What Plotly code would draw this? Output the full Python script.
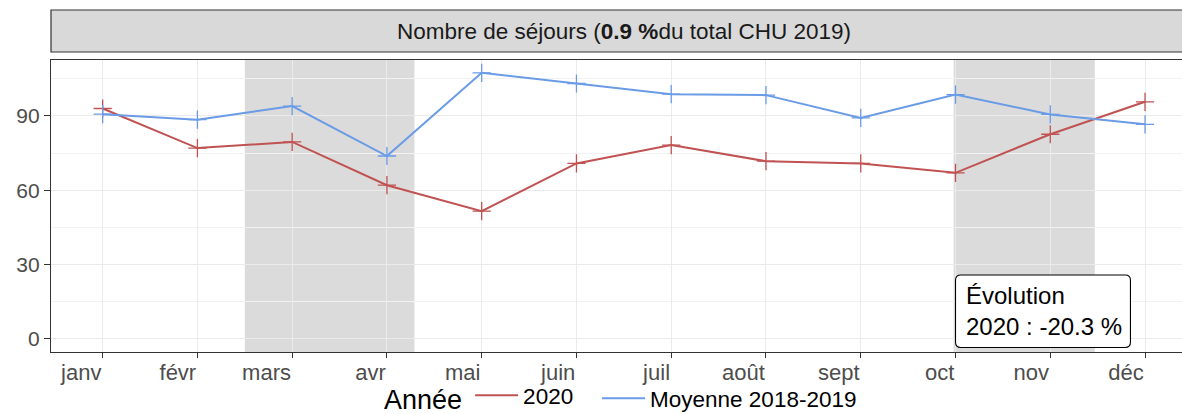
import plotly.graph_objects as go

months = ["janv", "févr", "mars", "avr", "mai", "juin", "juil", "août", "sept", "oct", "nov", "déc"]
y2020 = [93, 77, 79.5, 62, 51.5, 70.8, 78.2, 71.7, 70.8, 67, 82.6, 95.7]
ymoy = [90.7, 88.5, 94, 73.8, 107.4, 103.1, 98.8, 98.4, 89.2, 98.6, 90.6, 86.6]
series_names = ["2020", "Moyenne 2018-2019"]
colors = ["#C05252", "#6A9BE6"]
shade_periods = [(1.5, 3.29), (8.98, 10.47)]
yticks = [0, 30, 60, 90]

x = list(range(len(months)))
FONT = "Liberation Sans, Arial, sans-serif"

fig = go.Figure()
for name, vals, col in zip(series_names, [y2020, ymoy], colors):
    fig.add_trace(go.Scatter(
        x=x, y=vals, mode="lines+markers", name=name, showlegend=False,
        line=dict(color=col, width=2),
        marker=dict(symbol="cross-thin", size=13, color=col, line=dict(color=col, width=1.3)),
        hoverinfo="skip"))
for name, col, lg in zip(series_names, colors, ["legend", "legend2"]):
    fig.add_trace(go.Scatter(x=[None], y=[None], mode="lines", name=name, legend=lg,
                             line=dict(color=col, width=2)))

for x0, x1 in shade_periods:
    fig.add_shape(type="rect", xref="x", yref="paper", x0=x0, x1=x1, y0=0, y1=1,
                  fillcolor="rgba(0,0,0,0.14)", line=dict(width=0), layer="between")

# strip (facet header)
fig.add_shape(type="rect", xref="paper", yref="paper", x0=0, x1=1.03, y0=1.0274, y1=1.1712,
              fillcolor="#D9D9D9", line=dict(color="#333333", width=1.2))
fig.add_annotation(xref="x", yref="paper", x=5.5, y=1.0993, yanchor="middle",
                   text="Nombre de séjours (<b>0.9 %</b>du total CHU 2019)",
                   showarrow=False, font=dict(family=FONT, size=22.5, color="#1A1A1A"))

# rounded label box for the evolution text
bx0, bx1, by0, by1 = 9.0, 10.846, -3.6, 25.7
rx, ry = 0.055, 2.1
path = (f"M {bx0+rx},{by0} L {bx1-rx},{by0} Q {bx1},{by0} {bx1},{by0+ry} "
        f"L {bx1},{by1-ry} Q {bx1},{by1} {bx1-rx},{by1} L {bx0+rx},{by1} "
        f"Q {bx0},{by1} {bx0},{by1-ry} L {bx0},{by0+ry} Q {bx0},{by0} {bx0+rx},{by0} Z")
fig.add_shape(type="path", xref="x", yref="y", path=path, fillcolor="white",
              line=dict(color="black", width=1.1), layer="above")
fig.add_annotation(xref="x", yref="y", x=9.085, y=(by0 + by1) / 2, xanchor="left", yanchor="middle",
                   text="Évolution<br>2020 : -20.3 %", align="left", showarrow=False,
                   font=dict(family=FONT, size=24, color="black"))

legend_common = dict(orientation="h", xanchor="left", y=-0.233, yanchor="bottom",
                     font=dict(size=22.5, color="black"), itemwidth=43,
                     bgcolor="rgba(0,0,0,0)")
fig.update_layout(
    width=1182, height=414,
    margin=dict(l=51, r=0, t=60, b=62, autoexpand=False),
    paper_bgcolor="white", plot_bgcolor="white",
    font=dict(family=FONT, color="#4D4D4D"),
    legend=dict(x=0.2927, title=dict(text="Année", font=dict(size=27, color="black"), side="left"),
                **legend_common),
    legend2=dict(x=0.4828, **legend_common),
    xaxis=dict(range=[-0.545, 11.39], tickvals=x, ticktext=months,
               ticklabelposition="outside left", automargin=False,
               tickfont=dict(size=22, color="#4D4D4D"),
               ticks="outside", ticklen=5, tickcolor="#333333", tickwidth=1.2,
               showgrid=True, gridcolor="#EBEBEB", gridwidth=1.2,
               showline=True, linecolor="#333333", linewidth=1.2, mirror=True,
               zeroline=False),
    yaxis=dict(range=[-5.4, 112.6], tickvals=yticks, automargin=False,
               tickfont=dict(size=21, color="#4D4D4D"),
               ticks="outside", ticklen=6, tickcolor="#333333", tickwidth=1.2,
               showgrid=True, gridcolor="#EBEBEB", gridwidth=1.2,
               minor=dict(dtick=15, tick0=15, showgrid=True, gridcolor="#F2F2F2", gridwidth=1),
               showline=True, linecolor="#333333", linewidth=1.2, mirror=True,
               zeroline=False),
)

fig.write_html("out.html", config={"displayModeBar": False},
               post_script="document.body.style.margin='0';")
